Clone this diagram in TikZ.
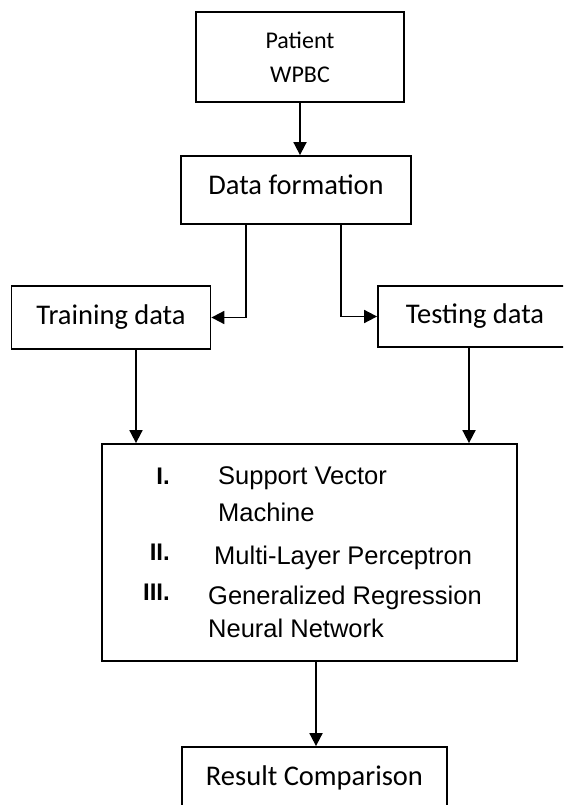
\documentclass[tikz,border=0pt]{standalone}
\usepackage{fontspec}
\setmainfont{Carlito}
\newfontfamily\arialfont{Liberation Sans}
\usetikzlibrary{arrows.meta}

\tikzset{
  box/.style={draw, line width=1.8pt, inner sep=0pt, font=\fontsize{28.5}{34}\selectfont},
  arr/.style={line width=1.8pt, -{Triangle[length=13pt,width=13pt]}},
  item/.style={inner sep=0pt, font=\arialfont\fontsize{25.5}{30}\selectfont},
  num/.style={inner sep=0pt, font=\arialfont\bfseries\fontsize{24}{28}\selectfont}
}

\begin{document}
\begin{tikzpicture}[x=1pt,y=-1pt]
\useasboundingbox (0,0) rectangle (563,805);
\clip (0,0) rectangle (563,805);
\node[box, minimum width=208pt, minimum height=90pt, align=center, font=\fontsize{24}{34}\selectfont] (patient) at (300,57) {Patient\\WPBC};
\node[box, minimum width=230pt, minimum height=68pt, text depth=10pt] (dataform) at (296,190) {Data formation};
\node[box, minimum width=199pt, minimum height=63pt] (train) at (111,317.5) {Training data};
\node[box, minimum width=194pt, minimum height=61pt] (test) at (475,316.5) {Testing data};
\node[box, minimum width=415pt, minimum height=217pt] (methods) at (309.5,552.5) {};
\node[box, minimum width=265pt, minimum height=62pt] (result) at (314.5,778) {Result Comparison};
\node[num, anchor=base east] (n1) at (170,484) {I.};
\node[item, anchor=base west] (svm) at (218,484) {Support Vector};
\node[item, anchor=base west] (svmb) at (218,521.5) {Machine};
\node[num, anchor=base east] (n2) at (170,560) {II.};
\node[item, anchor=base west] (mlp) at (214,564) {Multi-Layer Perceptron};
\node[num, anchor=base east] (n3) at (170,600) {III.};
\node[item, anchor=base west] (grnn) at (208,604) {Generalized Regression};
\node[item, anchor=base west] (grnnb) at (208,637.5) {Neural Network};
\draw[arr] (patient.south) -- (patient.south |- dataform.north);
\draw[arr] ([xshift=66pt]dataform.south west) |- (train.east);
\draw[arr] ([xshift=161pt]dataform.south west) |- (test.west);
\draw[arr] ([xshift=25pt]train.south) -- ([xshift=25pt]train.south |- methods.north);
\draw[arr] ([xshift=-6pt]test.south) -- ([xshift=-6pt]test.south |- methods.north);
\draw[arr] ([xshift=6.5pt]methods.south) -- ([xshift=6.5pt]methods.south |- result.north);
\end{tikzpicture}
\end{document}
